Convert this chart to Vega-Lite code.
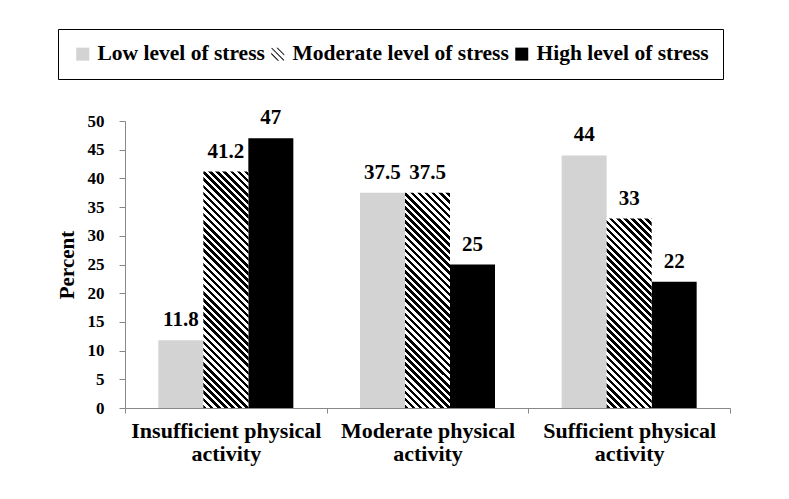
{
  "$schema": "https://vega.github.io/schema/vega-lite/v6.json",
  "width": 605,
  "height": 287,
  "autosize": "none",
  "padding": {"left": 125, "top": 121, "right": 59, "bottom": 91},
  "background": "white",
  "config": {"view": {"stroke": null}, "font": "Liberation Serif"},
  "data": {
    "values": [
      {"activity": "Insufficient physical activity", "stress": "Low level of stress", "value": 11.8},
      {"activity": "Insufficient physical activity", "stress": "Moderate level of stress", "value": 41.2},
      {"activity": "Insufficient physical activity", "stress": "High level of stress", "value": 47},
      {"activity": "Moderate physical activity", "stress": "Low level of stress", "value": 37.5},
      {"activity": "Moderate physical activity", "stress": "Moderate level of stress", "value": 37.5},
      {"activity": "Moderate physical activity", "stress": "High level of stress", "value": 25},
      {"activity": "Sufficient physical activity", "stress": "Low level of stress", "value": 44},
      {"activity": "Sufficient physical activity", "stress": "Moderate level of stress", "value": 33},
      {"activity": "Sufficient physical activity", "stress": "High level of stress", "value": 22}
    ]
  },
  "encoding": {
    "x": {
      "field": "activity", "type": "nominal",
      "scale": {"domain": ["Insufficient physical activity", "Moderate physical activity", "Sufficient physical activity"], "paddingInner": 0, "paddingOuter": 0},
      "axis": {"title": null, "labelAngle": 0, "labelFontSize": 22, "labelFontWeight": "bold", "labelColor": "#000", "labelPadding": 7, "labelLineHeight": 23, "labelLimit": 400, "tickBand": "extent", "tickSize": 5, "tickColor": "#888", "domainColor": "#888", "labelExpr": "datum.label ? [replace(datum.label, ' activity', ''), 'activity'] : ''"}
    },
    "xOffset": {
      "field": "stress", "type": "nominal",
      "scale": {"domain": ["Low level of stress", "Moderate level of stress", "High level of stress"], "paddingInner": 0, "paddingOuter": 0.7407}
    },
    "y": {
      "field": "value", "type": "quantitative",
      "scale": {"domain": [0, 50], "nice": false},
      "axis": {"values": [0, 5, 10, 15, 20, 25, 30, 35, 40, 45, 50], "grid": false, "title": "Percent", "titleFontSize": 21, "titleFontWeight": "bold", "titleColor": "#000", "titlePadding": 10, "labelFontSize": 17, "labelFontWeight": "bold", "labelColor": "#000", "labelPadding": 15, "tickSize": 6, "tickColor": "#888", "domainColor": "#888"}
    }
  },
  "layer": [
    {
      "transform": [{"filter": "datum.stress !== 'Moderate level of stress'"}],
      "mark": {"type": "bar"},
      "encoding": {
        "color": {
          "field": "stress", "type": "nominal",
          "scale": {"domain": ["Low level of stress", "Moderate level of stress", "High level of stress"], "range": ["#d3d3d3", "#000000", "#000000"]},
          "legend": {
            "title": null, "orient": "none", "legendX": -67, "legendY": -92, "direction": "horizontal",
            "strokeColor": "#000", "padding": 14, "symbolSize": 169, "symbolStrokeWidth": 0, "symbolOpacity": 1,
            "labelFontSize": 21.5, "labelFontWeight": "bold", "labelFont": "Liberation Serif", "labelColor": "#000", "labelLimit": 400, "labelOffset": 4, "columnPadding": 2
          }
        }
      }
    },
    {
      "mark": {"type": "point", "filled": true, "size": 0},
      "encoding": {
        "color": {
          "field": "stress", "type": "nominal",
          "legend": {
            "title": null, "orient": "none", "legendX": -67, "legendY": -92, "direction": "horizontal",
            "strokeColor": "#000", "padding": 14, "symbolSize": 169, "symbolStrokeWidth": 0, "symbolOpacity": 1,
            "labelFontSize": 21.5, "labelFontWeight": "bold", "labelFont": "Liberation Serif", "labelColor": "#000", "labelLimit": 400, "labelOffset": 4, "columnPadding": 2
          }
        },
        "shape": {
          "field": "stress", "type": "nominal",
          "scale": {"domain": ["Low level of stress", "Moderate level of stress", "High level of stress"], "range": ["square", "M -0.2 -1 L 0 -1 L 1 0 L 1 0.2 Z M -0.9 -1 L 1 0.9 L 0.9 1 L -1 -0.9 Z M -1 0 L -1 -0.2 L 0.2 1 L 0 1 Z", "square"]},
          "legend": {
            "title": null, "orient": "none", "legendX": -67, "legendY": -92, "direction": "horizontal",
            "strokeColor": "#000", "padding": 14, "symbolSize": 169, "symbolStrokeWidth": 0, "symbolOpacity": 1,
            "labelFontSize": 21.5, "labelFontWeight": "bold", "labelFont": "Liberation Serif", "labelColor": "#000", "labelLimit": 400, "labelOffset": 4, "columnPadding": 2
          }
        }
      }
    },
    {
      "transform": [{"filter": "datum.stress === 'Moderate level of stress' && datum.activity === 'Insufficient physical activity'"}],
      "mark": {"type": "bar", "fill": {"gradient": "linear", "x1": 0, "y1": 1, "x2": 0.22053, "y2": -0.15894, "stops": [
        {"offset":0,"color":"#000"},{"offset":0.0125,"color":"#000"},{"offset":0.0125,"color":"#fff"},{"offset":0.025,"color":"#fff"},
        {"offset":0.025,"color":"#000"},{"offset":0.0375,"color":"#000"},{"offset":0.0375,"color":"#fff"},{"offset":0.05,"color":"#fff"},
        {"offset":0.05,"color":"#000"},{"offset":0.0625,"color":"#000"},{"offset":0.0625,"color":"#fff"},{"offset":0.075,"color":"#fff"},
        {"offset":0.075,"color":"#000"},{"offset":0.0875,"color":"#000"},{"offset":0.0875,"color":"#fff"},{"offset":0.1,"color":"#fff"},
        {"offset":0.1,"color":"#000"},{"offset":0.1125,"color":"#000"},{"offset":0.1125,"color":"#fff"},{"offset":0.125,"color":"#fff"},
        {"offset":0.125,"color":"#000"},{"offset":0.1375,"color":"#000"},{"offset":0.1375,"color":"#fff"},{"offset":0.15,"color":"#fff"},
        {"offset":0.15,"color":"#000"},{"offset":0.1625,"color":"#000"},{"offset":0.1625,"color":"#fff"},{"offset":0.175,"color":"#fff"},
        {"offset":0.175,"color":"#000"},{"offset":0.1875,"color":"#000"},{"offset":0.1875,"color":"#fff"},{"offset":0.2,"color":"#fff"},
        {"offset":0.2,"color":"#000"},{"offset":0.2125,"color":"#000"},{"offset":0.2125,"color":"#fff"},{"offset":0.225,"color":"#fff"},
        {"offset":0.225,"color":"#000"},{"offset":0.2375,"color":"#000"},{"offset":0.2375,"color":"#fff"},{"offset":0.25,"color":"#fff"},
        {"offset":0.25,"color":"#000"},{"offset":0.2625,"color":"#000"},{"offset":0.2625,"color":"#fff"},{"offset":0.275,"color":"#fff"},
        {"offset":0.275,"color":"#000"},{"offset":0.2875,"color":"#000"},{"offset":0.2875,"color":"#fff"},{"offset":0.3,"color":"#fff"},
        {"offset":0.3,"color":"#000"},{"offset":0.3125,"color":"#000"},{"offset":0.3125,"color":"#fff"},{"offset":0.325,"color":"#fff"},
        {"offset":0.325,"color":"#000"},{"offset":0.3375,"color":"#000"},{"offset":0.3375,"color":"#fff"},{"offset":0.35,"color":"#fff"},
        {"offset":0.35,"color":"#000"},{"offset":0.3625,"color":"#000"},{"offset":0.3625,"color":"#fff"},{"offset":0.375,"color":"#fff"},
        {"offset":0.375,"color":"#000"},{"offset":0.3875,"color":"#000"},{"offset":0.3875,"color":"#fff"},{"offset":0.4,"color":"#fff"},
        {"offset":0.4,"color":"#000"},{"offset":0.4125,"color":"#000"},{"offset":0.4125,"color":"#fff"},{"offset":0.425,"color":"#fff"},
        {"offset":0.425,"color":"#000"},{"offset":0.4375,"color":"#000"},{"offset":0.4375,"color":"#fff"},{"offset":0.45,"color":"#fff"},
        {"offset":0.45,"color":"#000"},{"offset":0.4625,"color":"#000"},{"offset":0.4625,"color":"#fff"},{"offset":0.475,"color":"#fff"},
        {"offset":0.475,"color":"#000"},{"offset":0.4875,"color":"#000"},{"offset":0.4875,"color":"#fff"},{"offset":0.5,"color":"#fff"},
        {"offset":0.5,"color":"#000"},{"offset":0.5125,"color":"#000"},{"offset":0.5125,"color":"#fff"},{"offset":0.525,"color":"#fff"},
        {"offset":0.525,"color":"#000"},{"offset":0.5375,"color":"#000"},{"offset":0.5375,"color":"#fff"},{"offset":0.55,"color":"#fff"},
        {"offset":0.55,"color":"#000"},{"offset":0.5625,"color":"#000"},{"offset":0.5625,"color":"#fff"},{"offset":0.575,"color":"#fff"},
        {"offset":0.575,"color":"#000"},{"offset":0.5875,"color":"#000"},{"offset":0.5875,"color":"#fff"},{"offset":0.6,"color":"#fff"},
        {"offset":0.6,"color":"#000"},{"offset":0.6125,"color":"#000"},{"offset":0.6125,"color":"#fff"},{"offset":0.625,"color":"#fff"},
        {"offset":0.625,"color":"#000"},{"offset":0.6375,"color":"#000"},{"offset":0.6375,"color":"#fff"},{"offset":0.65,"color":"#fff"},
        {"offset":0.65,"color":"#000"},{"offset":0.6625,"color":"#000"},{"offset":0.6625,"color":"#fff"},{"offset":0.675,"color":"#fff"},
        {"offset":0.675,"color":"#000"},{"offset":0.6875,"color":"#000"},{"offset":0.6875,"color":"#fff"},{"offset":0.7,"color":"#fff"},
        {"offset":0.7,"color":"#000"},{"offset":0.7125,"color":"#000"},{"offset":0.7125,"color":"#fff"},{"offset":0.725,"color":"#fff"},
        {"offset":0.725,"color":"#000"},{"offset":0.7375,"color":"#000"},{"offset":0.7375,"color":"#fff"},{"offset":0.75,"color":"#fff"},
        {"offset":0.75,"color":"#000"},{"offset":0.7625,"color":"#000"},{"offset":0.7625,"color":"#fff"},{"offset":0.775,"color":"#fff"},
        {"offset":0.775,"color":"#000"},{"offset":0.7875,"color":"#000"},{"offset":0.7875,"color":"#fff"},{"offset":0.8,"color":"#fff"},
        {"offset":0.8,"color":"#000"},{"offset":0.8125,"color":"#000"},{"offset":0.8125,"color":"#fff"},{"offset":0.825,"color":"#fff"},
        {"offset":0.825,"color":"#000"},{"offset":0.8375,"color":"#000"},{"offset":0.8375,"color":"#fff"},{"offset":0.85,"color":"#fff"},
        {"offset":0.85,"color":"#000"},{"offset":0.8625,"color":"#000"},{"offset":0.8625,"color":"#fff"},{"offset":0.875,"color":"#fff"},
        {"offset":0.875,"color":"#000"},{"offset":0.8875,"color":"#000"},{"offset":0.8875,"color":"#fff"},{"offset":0.9,"color":"#fff"},
        {"offset":0.9,"color":"#000"},{"offset":0.9125,"color":"#000"},{"offset":0.9125,"color":"#fff"},{"offset":0.925,"color":"#fff"},
        {"offset":0.925,"color":"#000"},{"offset":0.9375,"color":"#000"},{"offset":0.9375,"color":"#fff"},{"offset":0.95,"color":"#fff"},
        {"offset":0.95,"color":"#000"},{"offset":0.9625,"color":"#000"},{"offset":0.9625,"color":"#fff"},{"offset":0.975,"color":"#fff"},
        {"offset":0.975,"color":"#000"},{"offset":0.9875,"color":"#000"},{"offset":0.9875,"color":"#fff"},{"offset":1,"color":"#fff"}
      ]}}
    },
    {
      "transform": [{"filter": "datum.stress === 'Moderate level of stress' && datum.activity === 'Moderate physical activity'"}],
      "mark": {"type": "bar", "fill": {"gradient": "linear", "x1": 0, "y1": 1, "x2": 0.26428, "y2": -0.26414, "stops": [
        {"offset":0,"color":"#000"},{"offset":0.0125,"color":"#000"},{"offset":0.0125,"color":"#fff"},{"offset":0.025,"color":"#fff"},
        {"offset":0.025,"color":"#000"},{"offset":0.0375,"color":"#000"},{"offset":0.0375,"color":"#fff"},{"offset":0.05,"color":"#fff"},
        {"offset":0.05,"color":"#000"},{"offset":0.0625,"color":"#000"},{"offset":0.0625,"color":"#fff"},{"offset":0.075,"color":"#fff"},
        {"offset":0.075,"color":"#000"},{"offset":0.0875,"color":"#000"},{"offset":0.0875,"color":"#fff"},{"offset":0.1,"color":"#fff"},
        {"offset":0.1,"color":"#000"},{"offset":0.1125,"color":"#000"},{"offset":0.1125,"color":"#fff"},{"offset":0.125,"color":"#fff"},
        {"offset":0.125,"color":"#000"},{"offset":0.1375,"color":"#000"},{"offset":0.1375,"color":"#fff"},{"offset":0.15,"color":"#fff"},
        {"offset":0.15,"color":"#000"},{"offset":0.1625,"color":"#000"},{"offset":0.1625,"color":"#fff"},{"offset":0.175,"color":"#fff"},
        {"offset":0.175,"color":"#000"},{"offset":0.1875,"color":"#000"},{"offset":0.1875,"color":"#fff"},{"offset":0.2,"color":"#fff"},
        {"offset":0.2,"color":"#000"},{"offset":0.2125,"color":"#000"},{"offset":0.2125,"color":"#fff"},{"offset":0.225,"color":"#fff"},
        {"offset":0.225,"color":"#000"},{"offset":0.2375,"color":"#000"},{"offset":0.2375,"color":"#fff"},{"offset":0.25,"color":"#fff"},
        {"offset":0.25,"color":"#000"},{"offset":0.2625,"color":"#000"},{"offset":0.2625,"color":"#fff"},{"offset":0.275,"color":"#fff"},
        {"offset":0.275,"color":"#000"},{"offset":0.2875,"color":"#000"},{"offset":0.2875,"color":"#fff"},{"offset":0.3,"color":"#fff"},
        {"offset":0.3,"color":"#000"},{"offset":0.3125,"color":"#000"},{"offset":0.3125,"color":"#fff"},{"offset":0.325,"color":"#fff"},
        {"offset":0.325,"color":"#000"},{"offset":0.3375,"color":"#000"},{"offset":0.3375,"color":"#fff"},{"offset":0.35,"color":"#fff"},
        {"offset":0.35,"color":"#000"},{"offset":0.3625,"color":"#000"},{"offset":0.3625,"color":"#fff"},{"offset":0.375,"color":"#fff"},
        {"offset":0.375,"color":"#000"},{"offset":0.3875,"color":"#000"},{"offset":0.3875,"color":"#fff"},{"offset":0.4,"color":"#fff"},
        {"offset":0.4,"color":"#000"},{"offset":0.4125,"color":"#000"},{"offset":0.4125,"color":"#fff"},{"offset":0.425,"color":"#fff"},
        {"offset":0.425,"color":"#000"},{"offset":0.4375,"color":"#000"},{"offset":0.4375,"color":"#fff"},{"offset":0.45,"color":"#fff"},
        {"offset":0.45,"color":"#000"},{"offset":0.4625,"color":"#000"},{"offset":0.4625,"color":"#fff"},{"offset":0.475,"color":"#fff"},
        {"offset":0.475,"color":"#000"},{"offset":0.4875,"color":"#000"},{"offset":0.4875,"color":"#fff"},{"offset":0.5,"color":"#fff"},
        {"offset":0.5,"color":"#000"},{"offset":0.5125,"color":"#000"},{"offset":0.5125,"color":"#fff"},{"offset":0.525,"color":"#fff"},
        {"offset":0.525,"color":"#000"},{"offset":0.5375,"color":"#000"},{"offset":0.5375,"color":"#fff"},{"offset":0.55,"color":"#fff"},
        {"offset":0.55,"color":"#000"},{"offset":0.5625,"color":"#000"},{"offset":0.5625,"color":"#fff"},{"offset":0.575,"color":"#fff"},
        {"offset":0.575,"color":"#000"},{"offset":0.5875,"color":"#000"},{"offset":0.5875,"color":"#fff"},{"offset":0.6,"color":"#fff"},
        {"offset":0.6,"color":"#000"},{"offset":0.6125,"color":"#000"},{"offset":0.6125,"color":"#fff"},{"offset":0.625,"color":"#fff"},
        {"offset":0.625,"color":"#000"},{"offset":0.6375,"color":"#000"},{"offset":0.6375,"color":"#fff"},{"offset":0.65,"color":"#fff"},
        {"offset":0.65,"color":"#000"},{"offset":0.6625,"color":"#000"},{"offset":0.6625,"color":"#fff"},{"offset":0.675,"color":"#fff"},
        {"offset":0.675,"color":"#000"},{"offset":0.6875,"color":"#000"},{"offset":0.6875,"color":"#fff"},{"offset":0.7,"color":"#fff"},
        {"offset":0.7,"color":"#000"},{"offset":0.7125,"color":"#000"},{"offset":0.7125,"color":"#fff"},{"offset":0.725,"color":"#fff"},
        {"offset":0.725,"color":"#000"},{"offset":0.7375,"color":"#000"},{"offset":0.7375,"color":"#fff"},{"offset":0.75,"color":"#fff"},
        {"offset":0.75,"color":"#000"},{"offset":0.7625,"color":"#000"},{"offset":0.7625,"color":"#fff"},{"offset":0.775,"color":"#fff"},
        {"offset":0.775,"color":"#000"},{"offset":0.7875,"color":"#000"},{"offset":0.7875,"color":"#fff"},{"offset":0.8,"color":"#fff"},
        {"offset":0.8,"color":"#000"},{"offset":0.8125,"color":"#000"},{"offset":0.8125,"color":"#fff"},{"offset":0.825,"color":"#fff"},
        {"offset":0.825,"color":"#000"},{"offset":0.8375,"color":"#000"},{"offset":0.8375,"color":"#fff"},{"offset":0.85,"color":"#fff"},
        {"offset":0.85,"color":"#000"},{"offset":0.8625,"color":"#000"},{"offset":0.8625,"color":"#fff"},{"offset":0.875,"color":"#fff"},
        {"offset":0.875,"color":"#000"},{"offset":0.8875,"color":"#000"},{"offset":0.8875,"color":"#fff"},{"offset":0.9,"color":"#fff"},
        {"offset":0.9,"color":"#000"},{"offset":0.9125,"color":"#000"},{"offset":0.9125,"color":"#fff"},{"offset":0.925,"color":"#fff"},
        {"offset":0.925,"color":"#000"},{"offset":0.9375,"color":"#000"},{"offset":0.9375,"color":"#fff"},{"offset":0.95,"color":"#fff"},
        {"offset":0.95,"color":"#000"},{"offset":0.9625,"color":"#000"},{"offset":0.9625,"color":"#fff"},{"offset":0.975,"color":"#fff"},
        {"offset":0.975,"color":"#000"},{"offset":0.9875,"color":"#000"},{"offset":0.9875,"color":"#fff"},{"offset":1,"color":"#fff"}
      ]}}
    },
    {
      "transform": [{"filter": "datum.stress === 'Moderate level of stress' && datum.activity === 'Sufficient physical activity'"}],
      "mark": {"type": "bar", "fill": {"gradient": "linear", "x1": 0, "y1": 1, "x2": 0.33716, "y2": -0.41922, "stops": [
        {"offset":0,"color":"#000"},{"offset":0.0125,"color":"#000"},{"offset":0.0125,"color":"#fff"},{"offset":0.025,"color":"#fff"},
        {"offset":0.025,"color":"#000"},{"offset":0.0375,"color":"#000"},{"offset":0.0375,"color":"#fff"},{"offset":0.05,"color":"#fff"},
        {"offset":0.05,"color":"#000"},{"offset":0.0625,"color":"#000"},{"offset":0.0625,"color":"#fff"},{"offset":0.075,"color":"#fff"},
        {"offset":0.075,"color":"#000"},{"offset":0.0875,"color":"#000"},{"offset":0.0875,"color":"#fff"},{"offset":0.1,"color":"#fff"},
        {"offset":0.1,"color":"#000"},{"offset":0.1125,"color":"#000"},{"offset":0.1125,"color":"#fff"},{"offset":0.125,"color":"#fff"},
        {"offset":0.125,"color":"#000"},{"offset":0.1375,"color":"#000"},{"offset":0.1375,"color":"#fff"},{"offset":0.15,"color":"#fff"},
        {"offset":0.15,"color":"#000"},{"offset":0.1625,"color":"#000"},{"offset":0.1625,"color":"#fff"},{"offset":0.175,"color":"#fff"},
        {"offset":0.175,"color":"#000"},{"offset":0.1875,"color":"#000"},{"offset":0.1875,"color":"#fff"},{"offset":0.2,"color":"#fff"},
        {"offset":0.2,"color":"#000"},{"offset":0.2125,"color":"#000"},{"offset":0.2125,"color":"#fff"},{"offset":0.225,"color":"#fff"},
        {"offset":0.225,"color":"#000"},{"offset":0.2375,"color":"#000"},{"offset":0.2375,"color":"#fff"},{"offset":0.25,"color":"#fff"},
        {"offset":0.25,"color":"#000"},{"offset":0.2625,"color":"#000"},{"offset":0.2625,"color":"#fff"},{"offset":0.275,"color":"#fff"},
        {"offset":0.275,"color":"#000"},{"offset":0.2875,"color":"#000"},{"offset":0.2875,"color":"#fff"},{"offset":0.3,"color":"#fff"},
        {"offset":0.3,"color":"#000"},{"offset":0.3125,"color":"#000"},{"offset":0.3125,"color":"#fff"},{"offset":0.325,"color":"#fff"},
        {"offset":0.325,"color":"#000"},{"offset":0.3375,"color":"#000"},{"offset":0.3375,"color":"#fff"},{"offset":0.35,"color":"#fff"},
        {"offset":0.35,"color":"#000"},{"offset":0.3625,"color":"#000"},{"offset":0.3625,"color":"#fff"},{"offset":0.375,"color":"#fff"},
        {"offset":0.375,"color":"#000"},{"offset":0.3875,"color":"#000"},{"offset":0.3875,"color":"#fff"},{"offset":0.4,"color":"#fff"},
        {"offset":0.4,"color":"#000"},{"offset":0.4125,"color":"#000"},{"offset":0.4125,"color":"#fff"},{"offset":0.425,"color":"#fff"},
        {"offset":0.425,"color":"#000"},{"offset":0.4375,"color":"#000"},{"offset":0.4375,"color":"#fff"},{"offset":0.45,"color":"#fff"},
        {"offset":0.45,"color":"#000"},{"offset":0.4625,"color":"#000"},{"offset":0.4625,"color":"#fff"},{"offset":0.475,"color":"#fff"},
        {"offset":0.475,"color":"#000"},{"offset":0.4875,"color":"#000"},{"offset":0.4875,"color":"#fff"},{"offset":0.5,"color":"#fff"},
        {"offset":0.5,"color":"#000"},{"offset":0.5125,"color":"#000"},{"offset":0.5125,"color":"#fff"},{"offset":0.525,"color":"#fff"},
        {"offset":0.525,"color":"#000"},{"offset":0.5375,"color":"#000"},{"offset":0.5375,"color":"#fff"},{"offset":0.55,"color":"#fff"},
        {"offset":0.55,"color":"#000"},{"offset":0.5625,"color":"#000"},{"offset":0.5625,"color":"#fff"},{"offset":0.575,"color":"#fff"},
        {"offset":0.575,"color":"#000"},{"offset":0.5875,"color":"#000"},{"offset":0.5875,"color":"#fff"},{"offset":0.6,"color":"#fff"},
        {"offset":0.6,"color":"#000"},{"offset":0.6125,"color":"#000"},{"offset":0.6125,"color":"#fff"},{"offset":0.625,"color":"#fff"},
        {"offset":0.625,"color":"#000"},{"offset":0.6375,"color":"#000"},{"offset":0.6375,"color":"#fff"},{"offset":0.65,"color":"#fff"},
        {"offset":0.65,"color":"#000"},{"offset":0.6625,"color":"#000"},{"offset":0.6625,"color":"#fff"},{"offset":0.675,"color":"#fff"},
        {"offset":0.675,"color":"#000"},{"offset":0.6875,"color":"#000"},{"offset":0.6875,"color":"#fff"},{"offset":0.7,"color":"#fff"},
        {"offset":0.7,"color":"#000"},{"offset":0.7125,"color":"#000"},{"offset":0.7125,"color":"#fff"},{"offset":0.725,"color":"#fff"},
        {"offset":0.725,"color":"#000"},{"offset":0.7375,"color":"#000"},{"offset":0.7375,"color":"#fff"},{"offset":0.75,"color":"#fff"},
        {"offset":0.75,"color":"#000"},{"offset":0.7625,"color":"#000"},{"offset":0.7625,"color":"#fff"},{"offset":0.775,"color":"#fff"},
        {"offset":0.775,"color":"#000"},{"offset":0.7875,"color":"#000"},{"offset":0.7875,"color":"#fff"},{"offset":0.8,"color":"#fff"},
        {"offset":0.8,"color":"#000"},{"offset":0.8125,"color":"#000"},{"offset":0.8125,"color":"#fff"},{"offset":0.825,"color":"#fff"},
        {"offset":0.825,"color":"#000"},{"offset":0.8375,"color":"#000"},{"offset":0.8375,"color":"#fff"},{"offset":0.85,"color":"#fff"},
        {"offset":0.85,"color":"#000"},{"offset":0.8625,"color":"#000"},{"offset":0.8625,"color":"#fff"},{"offset":0.875,"color":"#fff"},
        {"offset":0.875,"color":"#000"},{"offset":0.8875,"color":"#000"},{"offset":0.8875,"color":"#fff"},{"offset":0.9,"color":"#fff"},
        {"offset":0.9,"color":"#000"},{"offset":0.9125,"color":"#000"},{"offset":0.9125,"color":"#fff"},{"offset":0.925,"color":"#fff"},
        {"offset":0.925,"color":"#000"},{"offset":0.9375,"color":"#000"},{"offset":0.9375,"color":"#fff"},{"offset":0.95,"color":"#fff"},
        {"offset":0.95,"color":"#000"},{"offset":0.9625,"color":"#000"},{"offset":0.9625,"color":"#fff"},{"offset":0.975,"color":"#fff"},
        {"offset":0.975,"color":"#000"},{"offset":0.9875,"color":"#000"},{"offset":0.9875,"color":"#fff"},{"offset":1,"color":"#fff"}
      ]}}
    },
    {
      "mark": {"type": "text", "dy": -14, "baseline": "alphabetic", "fontSize": 21, "fontWeight": "bold", "font": "Liberation Serif", "color": "#000"},
      "encoding": {"text": {"field": "value", "type": "quantitative"}}
    }
  ]
}
